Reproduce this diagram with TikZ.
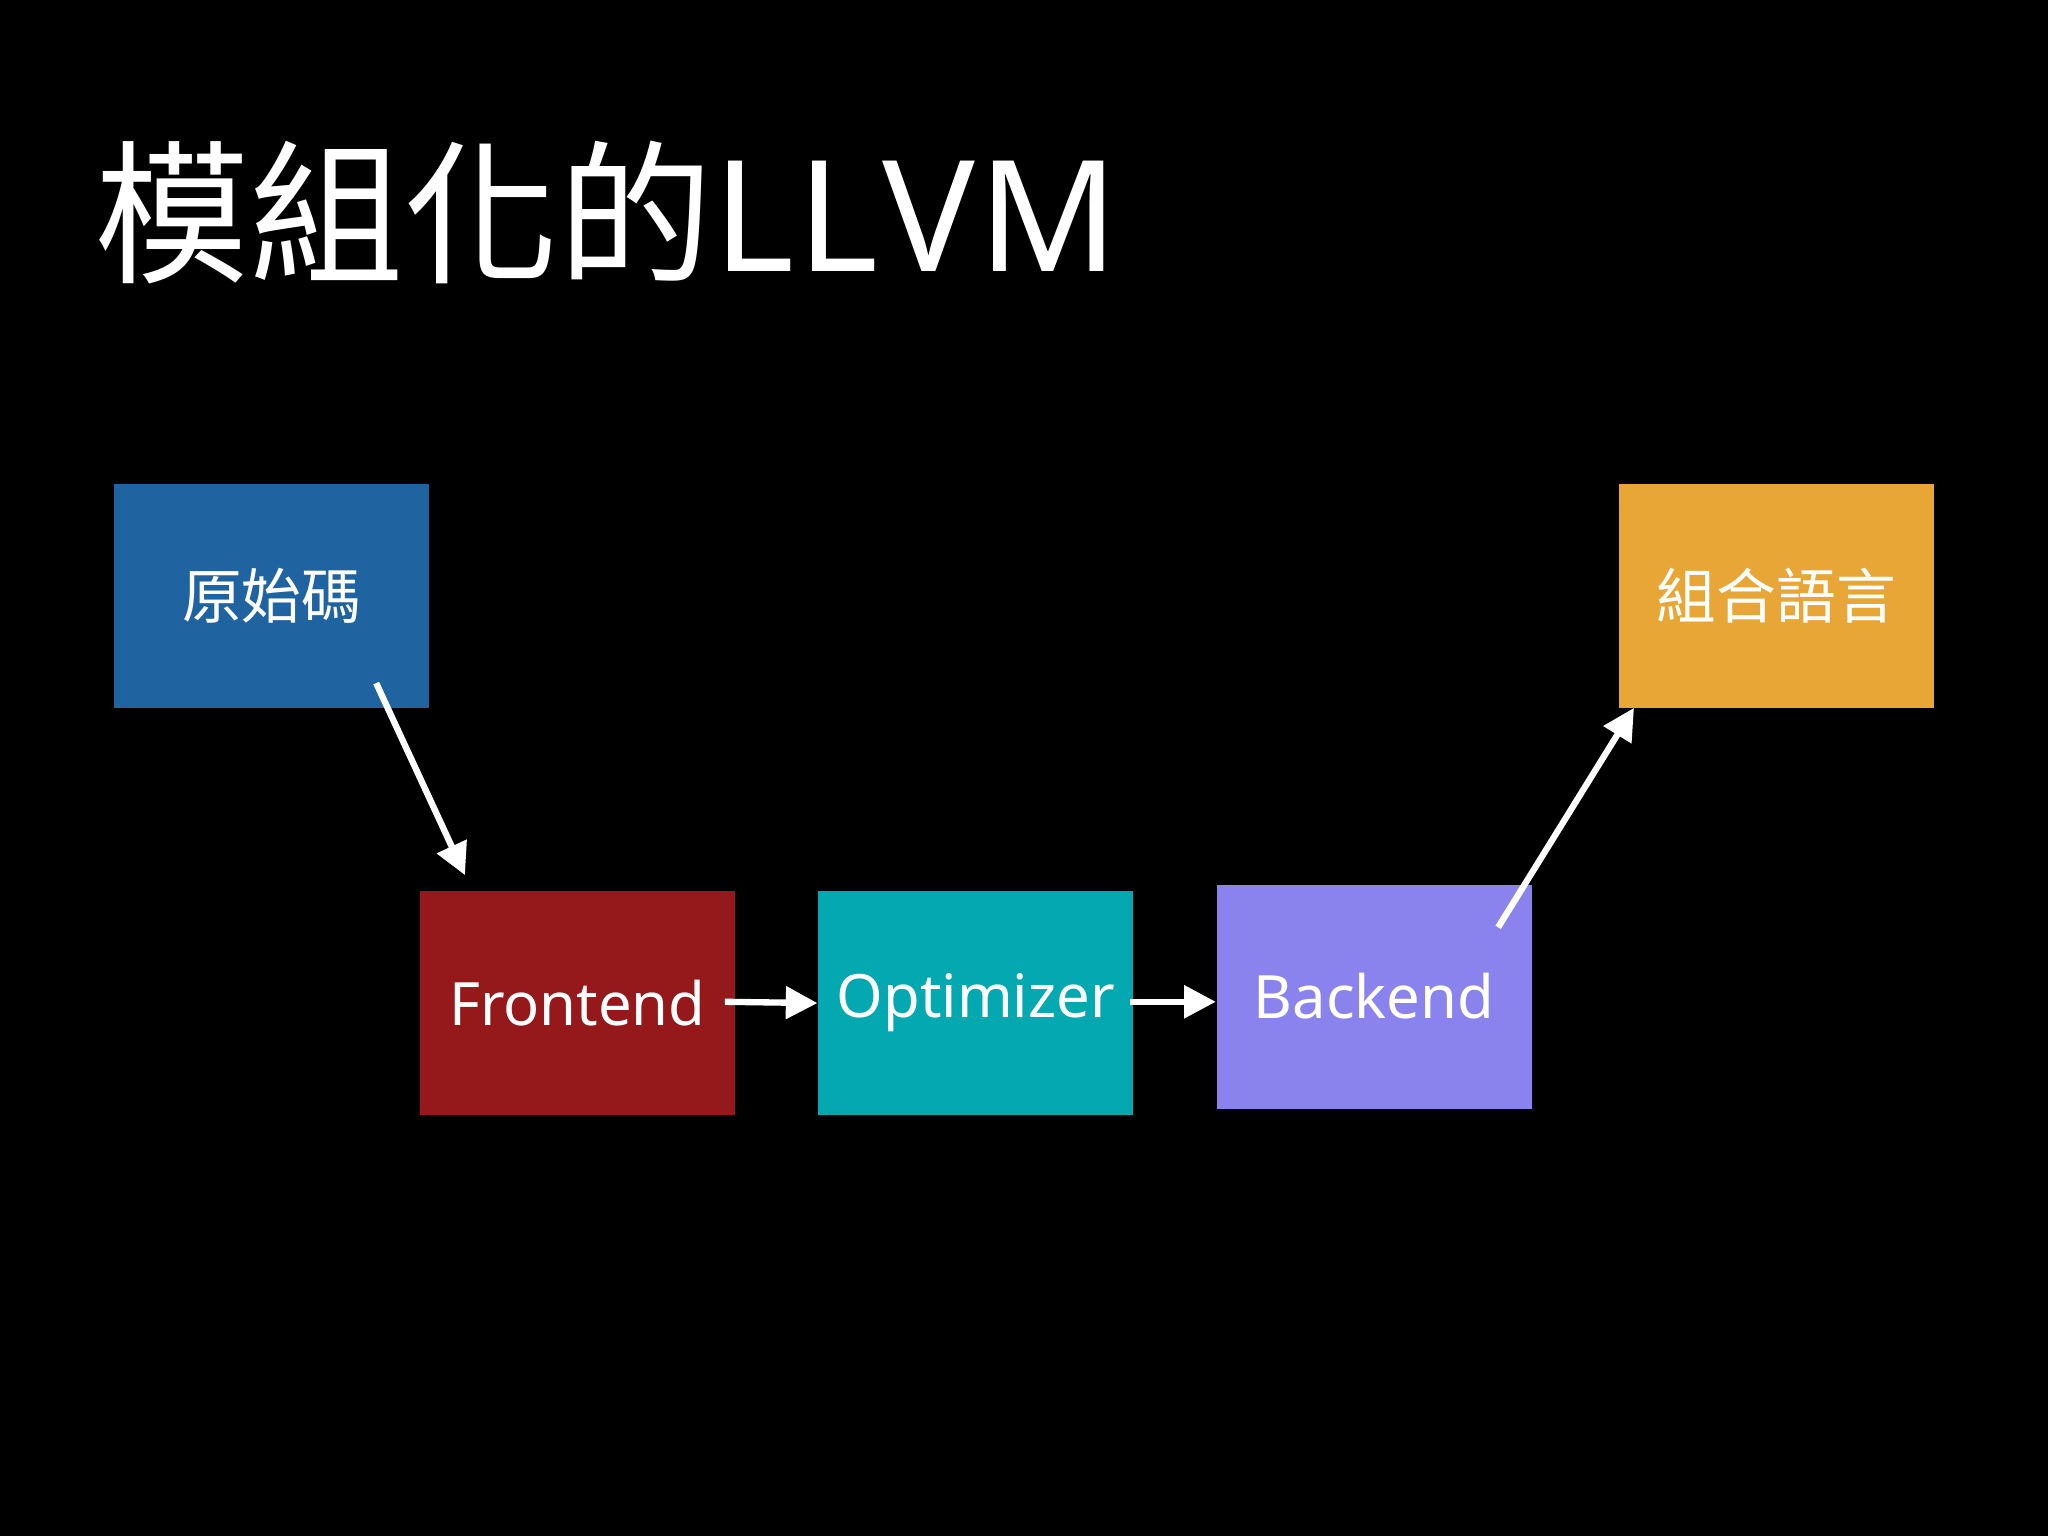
\documentclass[tikz,border=0pt]{standalone}
\usepackage{fontspec}
\setmainfont{Noto Sans}
\newfontfamily\cjk{Noto Sans CJK TC}
\usetikzlibrary{arrows.meta}
\definecolor{srcblue}{HTML}{1F63A0}
\definecolor{asmorange}{HTML}{E8A636}
\definecolor{frontred}{HTML}{95181A}
\definecolor{optteal}{HTML}{03A8B0}
\definecolor{backpurple}{HTML}{8A83EE}
\begin{document}
\begin{tikzpicture}[x=0.01306cm, y=-0.01306cm,
	stage/.style={minimum width=3.15cm, minimum height=2.24cm, inner sep=0pt,
		text=white, font=\fontsize{17pt}{20pt}\selectfont},
	flow/.style={white, line width=1.8pt, -{Triangle[length=9pt, width=9pt]}}]
		\fill[black] (0,0) rectangle (1568,1176);
		\useasboundingbox (0,0) rectangle (1568,1176);
		\node[anchor=base west, text=white, inner sep=0pt, font=\fontsize{44pt}{50pt}\selectfont] (title) at (72,208) {{\cjk 模組化的}L\kern1ptL\kern1ptV\kern1ptM};
		\node[stage, fill=srcblue, font=\cjk\fontsize{17pt}{20pt}\selectfont] (src) at (208,456) {原始碼};
		\node[stage, fill=asmorange, font=\cjk\fontsize{17pt}{20pt}\selectfont] (asm) at (1360,456) {組合語言};
		\node[stage, fill=frontred] (front) at (442,768) {Frontend};
		\node[stage, fill=optteal] (opt) at (747,768) {Optimizer};
		\node[stage, fill=backpurple] (back) at (1052,763) {Backend};
		\coordinate (srcout) at (288,523);
		\coordinate (frontin) at (356,670);
		\coordinate (frontout) at (555,767);
		\coordinate (optout) at (865,767);
		\coordinate (backout) at (1147,710);
		\coordinate (asmin) at (1251,542);
		\draw[flow] (srcout)--(frontin);
		\draw[flow] (frontout)--(opt.west);
		\draw[flow] (optout)--(back.west|-optout);
		\draw[flow] (backout)--(asmin);
	\end{tikzpicture}
\end{document}
